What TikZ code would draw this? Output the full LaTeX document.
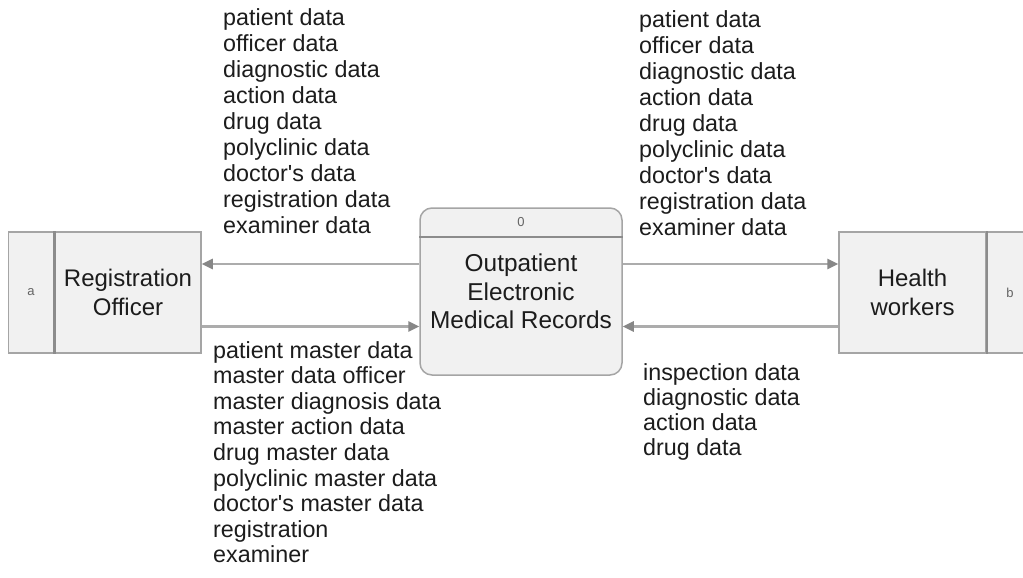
\documentclass[tikz,border=0pt]{standalone}
\usepackage{fontspec}
\setmainfont{Liberation Sans}
\usepackage{tikz}
\usetikzlibrary{arrows.meta,positioning}
\definecolor{boxgray}{RGB}{165,165,165}
\definecolor{boxfill}{RGB}{241,241,241}
\definecolor{linegray}{RGB}{172,172,172}
\definecolor{tipgray}{RGB}{135,135,135}
\definecolor{divgray}{RGB}{140,140,140}
\definecolor{txtblack}{RGB}{28,28,28}
\definecolor{idgray}{RGB}{100,100,100}
\newcommand{\flowfont}{\fontsize{23.3}{25.9}\selectfont}
\newcommand{\entfont}{\fontsize{24}{29}\selectfont}
\newcommand{\idfont}{\fontsize{13}{15}\selectfont}

\tikzset{
  entity/.style={draw=boxgray, line width=1.5pt, fill=boxfill, minimum height=121pt,
    inner sep=0pt, align=center, font=\entfont, text=txtblack},
  entcell/.style={entity, minimum width=45pt, font=\idfont, text=idgray},
  process/.style={draw=boxgray, line width=1.5pt, fill=boxfill, rounded corners=12pt,
    minimum width=202pt, minimum height=167pt, inner sep=0pt, align=center,
    font=\fontsize{24.4}{28.5}\selectfont, text=txtblack},
  flow/.style={draw=linegray, line width=2.5pt, -{Triangle[length=11pt,width=10pt,color=tipgray]}},
  flowtxt/.style={anchor=base west, inner sep=0pt, font=\flowfont, text=txtblack}
}

\begin{document}
\begin{tikzpicture}[x=1pt,y=-1pt]
        \fill[white] (0,0) rectangle (1023,578);
        \clip (0,0) rectangle (1023,578);

        % Define entities and process
        \node[entity, minimum width=146pt] (reg) at (128,292.5) {Registration\\Officer};
        \node[entcell, left=0pt of reg] (rega) {a};
        \node[entity, minimum width=147pt] (hw) at (912.5,292.5) {Health\\workers};
        \node[entcell, right=0pt of hw] (hwb) {b};
        \node[process] (proc) at (521,291.5) {Outpatient\\Electronic\\Medical Records};

        % Divider lines
        \draw[divgray, line width=2.5pt] (rega.north east) -- (rega.south east);
        \draw[divgray, line width=2.5pt] (hwb.north west) -- (hwb.south west);
        \coordinate (ydiv) at (0,237);
        \draw[divgray, line width=2.5pt] (proc.west |- ydiv) -- (proc.east |- ydiv);
        \node[font=\idfont, text=idgray] (procid) at (521,222) {0};

        % Define data flows
        \coordinate (yout) at (0,264);
        \coordinate (yin) at (0,326.5);
        \draw[flow] (proc.west |- yout) -- (reg.east |- yout);
        \draw[flow] (reg.east |- yin) -- (proc.west |- yin);
        \draw[flow] (proc.east |- yout) -- (hw.west |- yout);
        \draw[flow] (hw.west |- yin) -- (proc.east |- yin);

        % Define flow labels
        \foreach \i/\text in
        {
            0/patient data,
            1/officer data,
            2/diagnostic data,
            3/action data,
            4/drug data,
            5/polyclinic data,
            6/doctor\textquotesingle s data,
            7/registration data,
            8/examiner data
        } {
        \node[flowtxt] (toreg-\i) at (223,26+\i*25.9) {\text};
        \node[flowtxt] (tohw-\i) at (639,28+\i*25.9) {\text};
        }

        \foreach \i/\text in
        {
            0/patient master data,
            1/master data officer,
            2/master diagnosis data,
            3/master action data,
            4/drug master data,
            5/polyclinic master data,
            6/doctor\textquotesingle s master data,
            7/registration,
            8/examiner
        } {
        \node[flowtxt] (fromreg-\i) at (213,358+\i*25.6) {\text};
        }

        \foreach \i/\text in
        {
            0/inspection data,
            1/diagnostic data,
            2/action data,
            3/drug data
        } {
        \node[flowtxt] (fromhw-\i) at (643,380+\i*25) {\text};
        }
    \end{tikzpicture}
\end{document}
